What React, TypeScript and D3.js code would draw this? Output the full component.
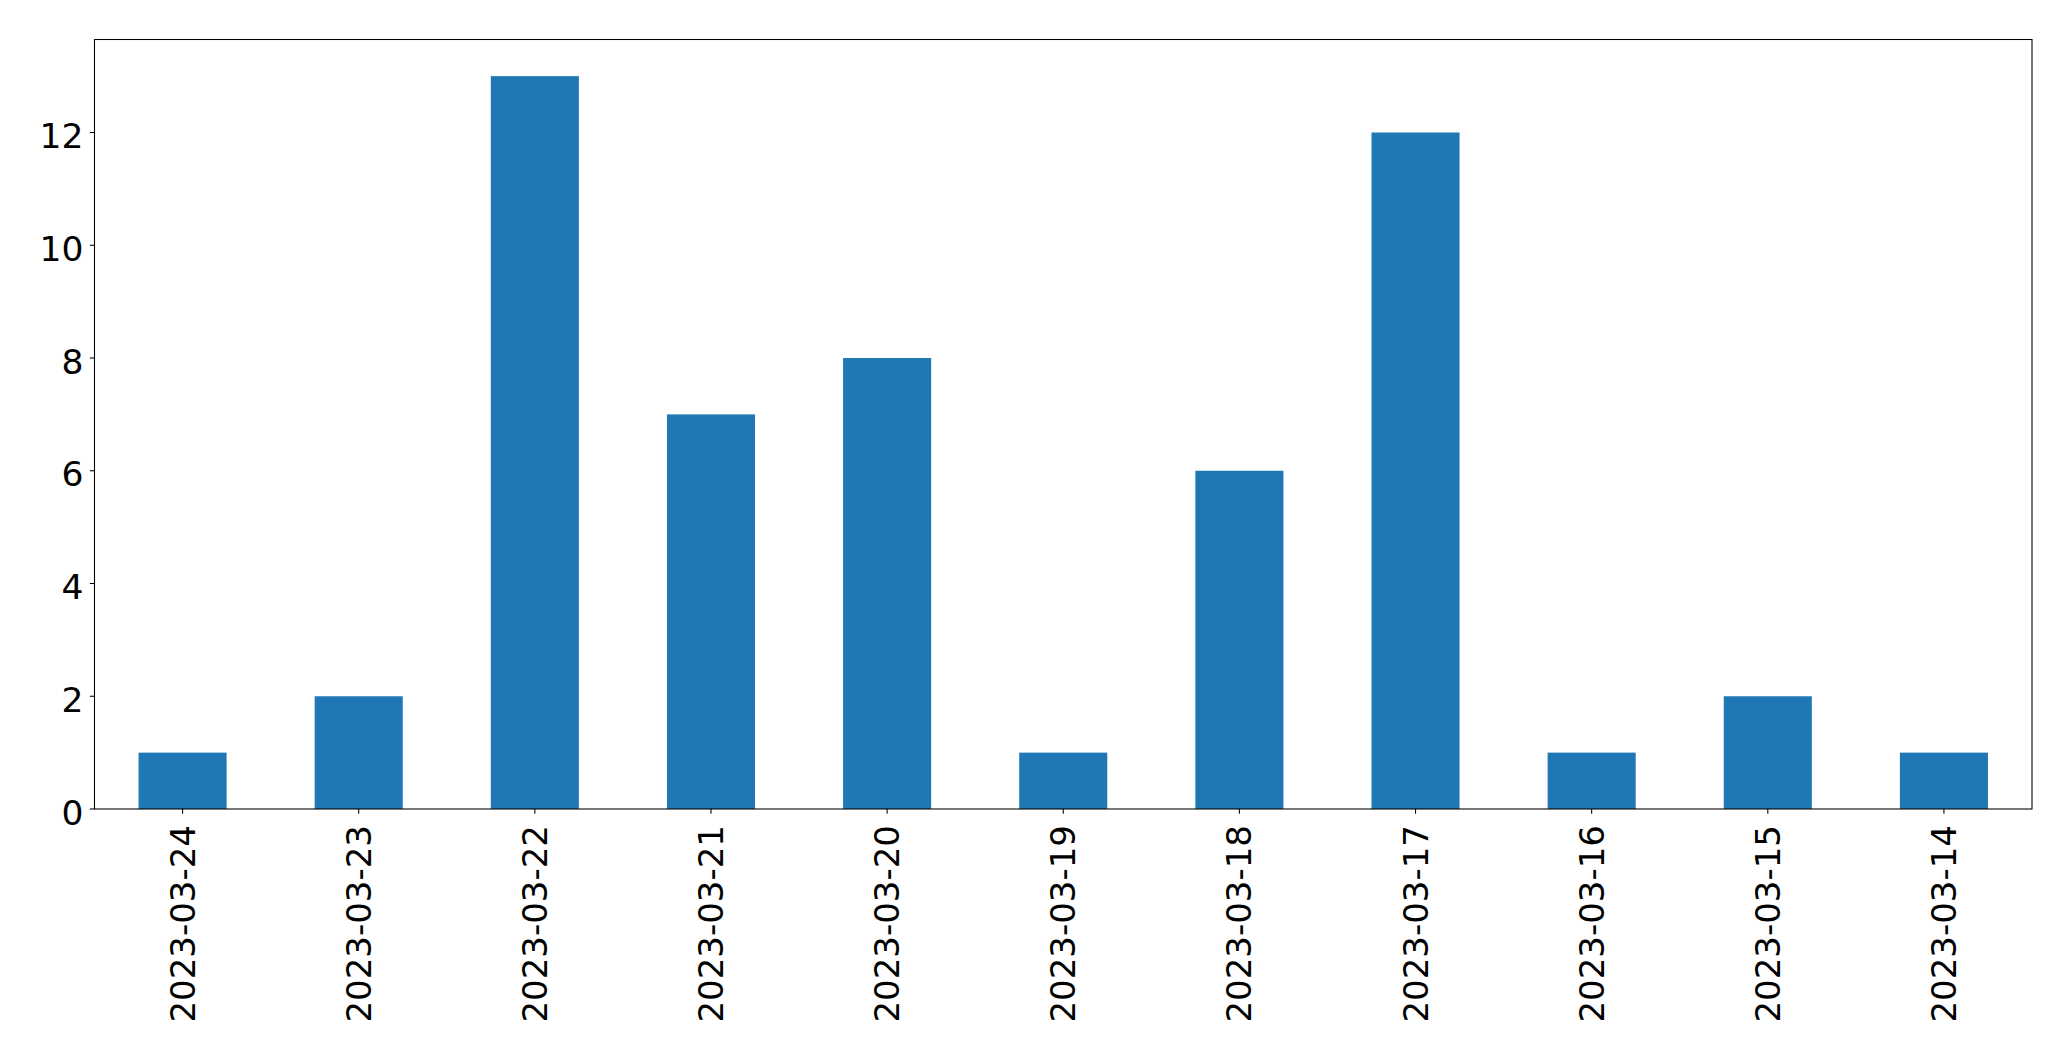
import React from "react";
import * as d3 from "d3";

const categories = ["2023-03-24","2023-03-23","2023-03-22","2023-03-21","2023-03-20","2023-03-19","2023-03-18","2023-03-17","2023-03-16","2023-03-15","2023-03-14"];
const values = [1, 2, 13, 7, 8, 1, 6, 12, 1, 2, 1];
const yTicks = [0, 2, 4, 6, 8, 10, 12];

const W = 2071, H = 1061;
const left = 94.5, right = 2032, top = 39.5, bottom = 809;

export default function App() {
  const x = d3.scaleBand<string>().domain(categories).range([left, right]).padding(0);
  const y = d3.scaleLinear().domain([0, 13.65]).range([bottom, top]);
  const bw = x.bandwidth() * 0.5;
  const font = "DejaVu Sans";
  return (
    <svg width={W} height={H} style={{ position: "absolute", left: 0, top: 0, background: "#fff" }}>
      <rect x={0} y={0} width={W} height={H} fill="#fff" />
      {categories.map((c, i) => (
        <rect key={c} x={x(c)! + x.bandwidth() / 2 - bw / 2} y={y(values[i])} width={bw} height={y(0) - y(values[i])} fill="#1f77b4" />
      ))}
      <rect x={left} y={top} width={right - left} height={bottom - top} fill="none" stroke="#000" strokeWidth={1.07} />
      {yTicks.map(t => (
        <g key={t}>
          <line x1={left - 4.7} x2={left} y1={y(t)} y2={y(t)} stroke="#000" strokeWidth={1.07} />
          <text x={left - 11} y={y(t) + 3.5} textAnchor="end" dominantBaseline="central" fontFamily={font} fontSize={34.5} fill="#000">{t}</text>
        </g>
      ))}
      {categories.map(c => {
        const cx = x(c)! + x.bandwidth() / 2;
        return (
          <g key={c}>
            <line x1={cx} x2={cx} y1={bottom} y2={bottom + 4.7} stroke="#000" strokeWidth={1.07} />
            <text transform={`translate(${cx},${bottom + 16}) rotate(-90)`} textAnchor="end" dominantBaseline="central" fontFamily={font} fontSize={34} fill="#000">{c}</text>
          </g>
        );
      })}
    </svg>
  );
}
